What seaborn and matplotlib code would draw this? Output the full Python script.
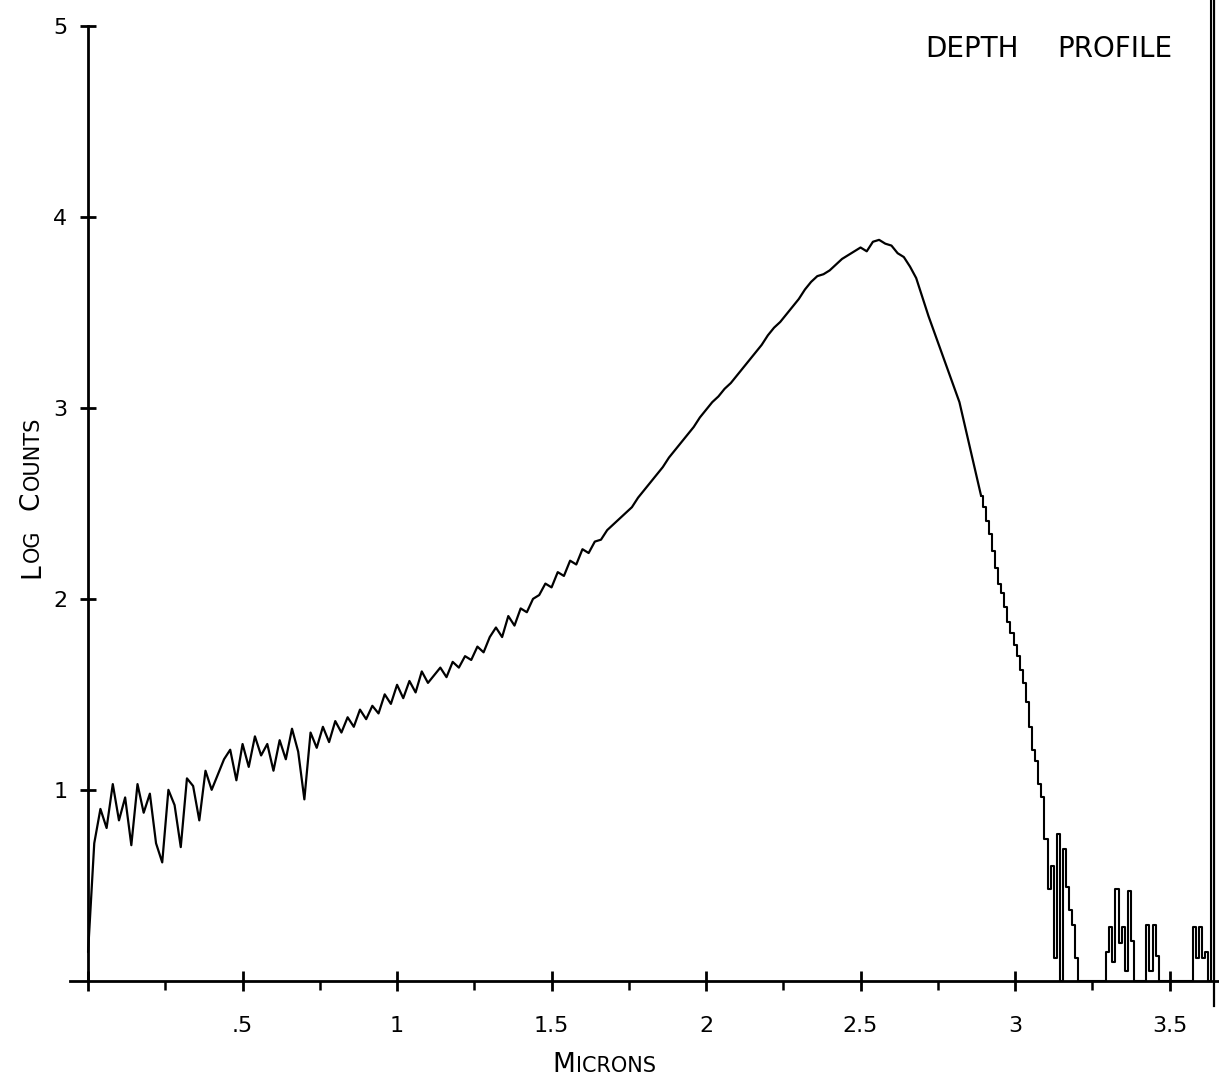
import numpy as np
import pandas as pd
import matplotlib
matplotlib.use("Agg")
import matplotlib.pyplot as plt
import seaborn as sns
from matplotlib.ticker import FixedLocator

W, H, DPI = 1219, 1082, 100

# ---- data -----------------------------------------------------------------
coarse_start, coarse_step = 0.0, 0.02
counts_coarse = [
    0.15, 0.72, 0.90, 0.80, 1.03, 0.84, 0.96, 0.71, 1.03, 0.88,
    0.98, 0.72, 0.62, 1.00, 0.92, 0.70, 1.06, 1.02, 0.84, 1.10,
    1.00, 1.08, 1.16, 1.21, 1.05, 1.24, 1.12, 1.28, 1.18, 1.24,
    1.10, 1.26, 1.16, 1.32, 1.20, 0.95, 1.30, 1.22, 1.33, 1.25,
    1.36, 1.30, 1.38, 1.33, 1.42, 1.37, 1.44, 1.40, 1.50, 1.45,
    1.55, 1.48, 1.57, 1.51, 1.62, 1.56, 1.60, 1.64, 1.59, 1.67,
    1.64, 1.70, 1.68, 1.75, 1.72, 1.80, 1.85, 1.80, 1.91, 1.86,
    1.95, 1.93, 2.00, 2.02, 2.08, 2.06, 2.14, 2.12, 2.20, 2.18,
    2.26, 2.24, 2.30, 2.31, 2.36, 2.39, 2.42, 2.45, 2.48, 2.53,
    2.57, 2.61, 2.65, 2.69, 2.74, 2.78, 2.82, 2.86, 2.90, 2.95,
    2.99, 3.03, 3.06, 3.10, 3.13, 3.17, 3.21, 3.25, 3.29, 3.33,
    3.38, 3.42, 3.45, 3.49, 3.53, 3.57, 3.62, 3.66, 3.69, 3.70,
    3.72, 3.75, 3.78, 3.80, 3.82, 3.84, 3.82, 3.87, 3.88, 3.86,
    3.85, 3.81, 3.79, 3.74, 3.68, 3.58, 3.48, 3.39, 3.30, 3.21,
    3.12, 3.03, 2.89, 2.75, 2.61,
]
fine_start, fine_step = 2.89, 0.01
counts_fine = [
    2.54, 2.48, 2.41, 2.34, 2.25, 2.16, 2.08, 2.03, 1.96, 1.88,
    1.82, 1.76, 1.70, 1.63, 1.56, 1.46, 1.33, 1.21, 1.15, 1.03,
    0.96, 0.74, 0.48, 0.60, 0.12, 0.77, 0.00, 0.69, 0.49, 0.37,
    0.29, 0.12, 0.00, 0.00, 0.00, 0.00, 0.00, 0.00, 0.00, 0.00,
    0.00, 0.15, 0.28, 0.10, 0.48, 0.20, 0.28, 0.05, 0.47, 0.21,
    0.00, 0.00, 0.00, 0.00, 0.29, 0.05, 0.29, 0.13, 0.00, 0.00,
    0.00, 0.00, 0.00, 0.00, 0.00, 0.00, 0.00, 0.00, 0.00, 0.28,
    0.12, 0.28, 0.12, 0.15, 0.00, 5.50,
]

x_major_ticks = [0.0, 0.5, 1.0, 1.5, 2.0, 2.5, 3.0, 3.5]
x_major_labels = ["", ".5", "1", "1.5", "2", "2.5", "3", "3.5"]
x_minor_ticks = [0.25, 0.75, 1.25, 1.75, 2.25, 2.75, 3.25]
y_major_ticks = [1, 2, 3, 4, 5]
y_major_labels = ["1", "2", "3", "4", "5"]

microns = np.concatenate([
    coarse_start + coarse_step * np.arange(len(counts_coarse)),
    fine_start + fine_step * np.arange(len(counts_fine)),
])
log_counts = np.array(counts_coarse + counts_fine)
df = pd.DataFrame({"microns": np.round(microns, 4), "log_counts": log_counts})
df_smooth = df[df["microns"] <= fine_start + 1e-9]
df_tail = df[df["microns"] >= fine_start - 1e-9]

# ---- figure ----------------------------------------------------------------
sns.set_theme(style="white")
plt.rcParams["font.family"] = ["DejaVu Sans"]

fig = plt.figure(figsize=(W / DPI, H / DPI), dpi=DPI, facecolor="white")
ax = fig.add_axes([0, 0, 1, 1])
ax.set_facecolor("white")

sns.lineplot(data=df_smooth, x="microns", y="log_counts",
             color="black", lw=1.6, ax=ax, legend=False)
sns.lineplot(data=df_tail, x="microns", y="log_counts", drawstyle="steps-mid",
             color="black", lw=1.5, ax=ax, legend=False)

ax.set_xlim(-0.285, 3.66)
ax.set_ylim(-0.53, 5.136)
ax.set_xlabel("")
ax.set_ylabel("")

ax.spines["top"].set_visible(False)
for side in ["left", "bottom", "right"]:
    ax.spines[side].set_visible(True)
    ax.spines[side].set_color("black")
    ax.spines[side].set_linewidth(2.0)
ax.spines["left"].set_position(("data", 0))
ax.spines["left"].set_bounds(0, 5)
ax.spines["bottom"].set_position(("data", 0))
ax.spines["bottom"].set_bounds(-0.06, 3.66)
ax.spines["right"].set_position(("data", 3.645))
ax.spines["right"].set_bounds(-0.13, 5.3)
ax.spines["right"].set_linewidth(1.6)

ax.yaxis.set_ticks_position("left")
ax.xaxis.set_ticks_position("bottom")
ax.xaxis.set_major_locator(FixedLocator(x_major_ticks))
ax.set_xticklabels(x_major_labels)
ax.xaxis.set_minor_locator(FixedLocator(x_minor_ticks))
ax.yaxis.set_major_locator(FixedLocator(y_major_ticks))
ax.set_yticklabels(y_major_labels)

ax.tick_params(axis="x", which="major", bottom=True, direction="inout",
               length=14.4, width=2, pad=18, labelsize=16, colors="black")
ax.tick_params(axis="x", which="minor", bottom=True, direction="out",
               length=6.5, width=1.8, colors="black")
ax.tick_params(axis="y", which="major", left=True, direction="inout",
               length=12, width=2, pad=9, labelsize=16, colors="black")

# ---- titles / axis names (small caps, plotter style) -----------------------
fig.canvas.draw()
renderer = fig.canvas.get_renderer()


def chain_text(pieces, x0, y0, vertical):
    """pieces: (text, size, gap_px). x0, y0 in image pixels (origin top-left)."""
    pos = y0 if vertical else x0
    for s, size, gap in pieces:
        if vertical:
            t = fig.text(x0 / W, 1 - pos / H, s, rotation=90,
                         rotation_mode="anchor", ha="left", va="baseline",
                         fontsize=size, color="black")
            bb = t.get_window_extent(renderer)
            pos = (H - bb.y1) - gap
        else:
            t = fig.text(pos / W, 1 - y0 / H, s, ha="left", va="baseline",
                         fontsize=size, color="black")
            bb = t.get_window_extent(renderer)
            pos = bb.x1 + gap


chain_text([("L", 19, 1), ("OG", 15, 20), ("C", 19, 1), ("OUNTS", 15, 0)],
           39, 578, vertical=True)
chain_text([("M", 19, 1), ("ICRONS", 15, 0)], 552, 1072, vertical=False)

fig.text(925 / W, 1 - 57 / H, "DEPTH", ha="left", va="baseline",
         fontsize=20, color="black")
fig.text(1057 / W, 1 - 57 / H, "PROFILE", ha="left", va="baseline",
         fontsize=20, color="black")

fig.savefig("out.png", dpi=DPI, facecolor="white")
